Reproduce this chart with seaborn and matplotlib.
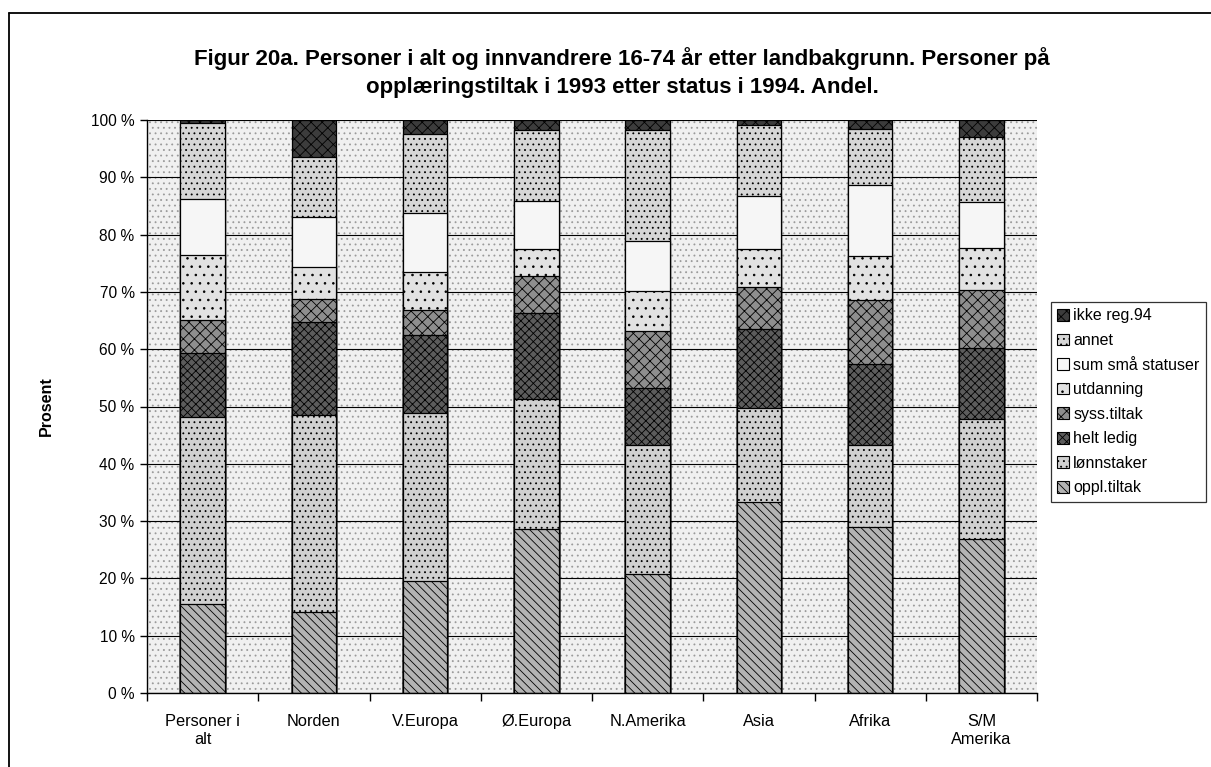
import matplotlib
matplotlib.use("Agg")
import matplotlib.pyplot as plt
from matplotlib.patches import Patch, Rectangle
from matplotlib.lines import Line2D
import seaborn as sns
import numpy as np

categories = ["Personer i\nalt", "Norden", "V.Europa", "Ø.Europa", "N.Amerika", "Asia", "Afrika", "S/M\nAmerika"]
series = ["oppl.tiltak", "lønnstaker", "helt ledig", "syss.tiltak", "utdanning", "sum små statuser", "annet", "ikke reg.94"]

oppl_tiltak = [15.5, 14.2, 19.6, 28.6, 20.8, 33.4, 29.0, 26.8]
lonnstaker = [32.6, 34.3, 29.3, 22.7, 22.5, 16.3, 14.3, 21.1]
helt_ledig = [11.3, 16.3, 13.6, 15.1, 9.9, 13.9, 14.2, 12.3]
syss_tiltak = [5.7, 3.9, 4.3, 6.3, 9.9, 7.3, 11.1, 10.1]
utdanning = [11.3, 5.6, 6.6, 4.7, 7.1, 6.5, 7.6, 7.3]
sum_sma = [9.9, 8.8, 10.3, 8.5, 8.6, 9.3, 12.5, 8.1]
annet = [13.1, 10.5, 13.9, 12.4, 19.5, 12.4, 9.8, 11.4]
ikke_reg = [0.6, 6.4, 2.4, 1.7, 1.7, 0.9, 1.5, 2.9]

y_ticks = [0, 10, 20, 30, 40, 50, 60, 70, 80, 90, 100]

values = [oppl_tiltak, lonnstaker, helt_ledig, syss_tiltak, utdanning, sum_sma, annet, ikke_reg]

faces = ["#b4b4b4", "#d0d0d0", "#5c5c5c", "#8e8e8e", "#e2e2e2", "#f6f6f6", "#d6d6d6", "#3c3c3c"]
hatches = ["\\\\\\\\", "...", "xxxx", "xxx", "..", "", "...", "xxx"]

sns.set_theme(style="white")
plt.rcParams["font.family"] = ["Liberation Sans", "DejaVu Sans"]
plt.rcParams["hatch.linewidth"] = 0.6
plt.rcParams["text.color"] = "black"
plt.rcParams["axes.labelcolor"] = "black"
plt.rcParams["xtick.color"] = "black"
plt.rcParams["ytick.color"] = "black"

fig = plt.figure(figsize=(12.11, 7.67), dpi=100)
ax = fig.add_axes([147 / 1211, 1 - 693 / 767, (1037 - 147) / 1211, (693 - 120) / 767])

# background dotted pattern
ax.add_patch(Rectangle((0, 0), 1, 1, transform=ax.transAxes, facecolor="#f0f0f0",
                       edgecolor="#9a9a9a", hatch="...", lw=0, zorder=0))

cum = np.cumsum(np.array(values), axis=0)
for i in range(len(series) - 1, -1, -1):
    top = cum[i] if i < len(series) - 1 else np.full(len(categories), 100.0)
    sns.barplot(x=categories, y=top, color=faces[i], saturation=1, width=0.4,
                edgecolor="black", linewidth=0.9, hatch=hatches[i], ax=ax, zorder=3)

ax.set_ylim(0, 100)
ax.set_xlim(-0.5, len(categories) - 0.5)
ax.set_yticks(y_ticks)
ax.set_yticklabels([f"{v} %" for v in y_ticks], fontsize=11.2)
ax.yaxis.grid(True, color="black", lw=0.8, zorder=1)
ax.xaxis.grid(False)
for line in ax.get_ygridlines():
    line.set_zorder(1)
ax.set_axisbelow(False)

ax.set_xticks(range(len(categories)))
ax.set_xticklabels(categories, fontsize=11.8, linespacing=1.3)
ax.set_xticks(np.arange(-0.5, len(categories), 1), minor=True)
ax.tick_params(axis="x", which="major", length=0, pad=15)
ax.tick_params(axis="x", which="minor", length=6, width=1, color="black", direction="out", bottom=True)
ax.tick_params(axis="y", which="major", length=5, width=1, color="black", direction="out", left=True, pad=4)

for s in ["top", "right"]:
    ax.spines[s].set_visible(False)
for s in ["left", "bottom"]:
    ax.spines[s].set_color("black")
    ax.spines[s].set_linewidth(1.0)
    ax.spines[s].set_zorder(5)

ax.set_xlabel("")
ax.set_ylabel("Prosent", fontsize=11.5, fontweight="bold")
ax.yaxis.set_label_coords(-0.105, 0.5)

fig.text(622 / 1211, 1 - 59 / 767, "Figur 20a. Personer i alt og innvandrere 16-74 år etter landbakgrunn. Personer på",
         ha="center", va="center", fontsize=16, fontweight="bold")
fig.text(622 / 1211, 1 - 88 / 767, "opplæringstiltak i 1993 etter status i 1994. Andel.",
         ha="center", va="center", fontsize=16, fontweight="bold")

handles = [Patch(facecolor=faces[i], edgecolor="black", hatch=hatches[i], linewidth=0.8, label=series[i])
           for i in range(len(series) - 1, -1, -1)]
leg = fig.legend(handles=handles, loc="upper left", bbox_to_anchor=(1051 / 1211, 1 - 302 / 767),
                 frameon=True, fontsize=11.5, handlelength=0.75, handleheight=0.75, handletextpad=0.25,
                 labelspacing=0.6, borderpad=0.4, borderaxespad=0, fancybox=False)
leg.get_frame().set_edgecolor("black")
leg.get_frame().set_linewidth(0.9)

# outer frame
fig.add_artist(Line2D([9 / 1211, 1.0], [1 - 13 / 767, 1 - 13 / 767], transform=fig.transFigure, color="black", lw=1.3))
fig.add_artist(Line2D([9 / 1211, 9 / 1211], [0.0, 1 - 13 / 767], transform=fig.transFigure, color="black", lw=1.3))

fig.savefig("out.png", dpi=100, facecolor="white")
